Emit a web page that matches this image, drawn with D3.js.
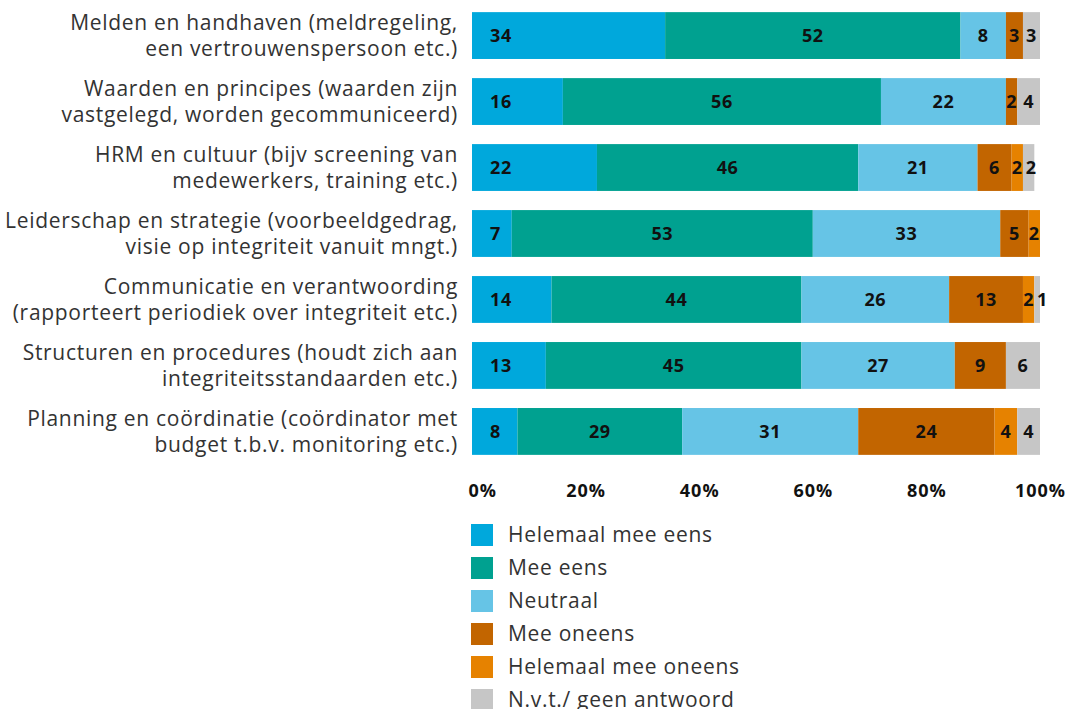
<!DOCTYPE html>
<html>
<head>
<meta charset="utf-8">
<script src="https://cdn.jsdelivr.net/npm/d3@7"></script>
<style>
  body { margin: 0; background: #fff; }
  svg text { font-family: "Open Sans", "Noto Sans", sans-serif; }
  .cat-label { font-size: 21px; fill: #333; letter-spacing: 0.7px; }
  .bar-label { font-size: 18px; font-weight: 700; fill: #111; letter-spacing: 0.6px; }
  .tick-label { font-size: 18px; font-weight: 700; fill: #111; letter-spacing: 1px; }
  .legend-label { font-size: 21px; fill: #333; letter-spacing: 0.7px; }
</style>
</head>
<body>
<svg id="chart"></svg>
<script>
// categories, two lines each
const categories = [
  ['Melden en handhaven (meldregeling,', 'een vertrouwenspersoon etc.)'],
  ['Waarden en principes (waarden zijn', 'vastgelegd, worden gecommuniceerd)'],
  ['HRM en cultuur (bijv screening van', 'medewerkers, training etc.)'],
  ['Leiderschap en strategie (voorbeeldgedrag,', 'visie op integriteit vanuit mngt.)'],
  ['Communicatie en verantwoording', '(rapporteert periodiek over integriteit etc.)'],
  ['Structuren en procedures (houdt zich aan', 'integriteitsstandaarden etc.)'],
  ['Planning en coördinatie (coördinator met', 'budget t.b.v. monitoring etc.)']
];

const seriesNames = ['Helemaal mee eens', 'Mee eens', 'Neutraal', 'Mee oneens', 'Helemaal mee oneens', 'N.v.t./ geen antwoord'];
const seriesColors = ['#00a8dc', '#00a190', '#66c4e6', '#c26500', '#e68200', '#c6c6c6'];

const helemaalMeeEens = [34, 16, 22, 7, 14, 13, 8];
const meeEens = [52, 56, 46, 53, 44, 45, 29];
const neutraal = [8, 22, 21, 33, 26, 27, 31];
const meeOneens = [3, 2, 6, 5, 13, 9, 24];
const helemaalMeeOneens = [0, 0, 2, 2, 2, 0, 4];
const nvt = [3, 4, 2, 0, 1, 6, 4];

const tickValues = [0, 20, 40, 60, 80, 100];

const seriesValues = [helemaalMeeEens, meeEens, neutraal, meeOneens, helemaalMeeOneens, nvt];

const width = 1068, height = 709;
const svg = d3.select('#chart').attr('width', width).attr('height', height);

const data = categories.map((c, i) => {
  const row = { key: i };
  seriesNames.forEach((s, j) => row[s] = seriesValues[j][i]);
  return row;
});

const stacked = d3.stack().keys(seriesNames)(data);

const xScale = d3.scaleLinear().domain([0, 100]).range([472, 1040]);
const yScale = d3.scaleBand()
  .domain(d3.range(categories.length))
  .range([-7, 474])
  .padding(0.29);
const color = d3.scaleOrdinal().domain(seriesNames).range(seriesColors);

// bars
const layers = svg.append('g').selectAll('g')
  .data(stacked)
  .join('g')
    .attr('fill', d => color(d.key));

layers.selectAll('rect')
  .data(d => d)
  .join('rect')
    .attr('x', d => xScale(d[0]))
    .attr('y', (d, i) => yScale(i))
    .attr('width', d => xScale(d[1]) - xScale(d[0]))
    .attr('height', yScale.bandwidth());

// value labels
const labelG = svg.append('g');
stacked.forEach((layer, li) => {
  layer.forEach((d, i) => {
    const v = d[1] - d[0];
    if (v <= 0) return;
    labelG.append('text')
      .attr('class', 'bar-label')
      .attr('data-row', i)
      .attr('x', li === 0 ? xScale(d[0]) + 18 : (xScale(d[0]) + xScale(d[1])) / 2)
      .attr('y', yScale(i) + yScale.bandwidth() / 2)
      .attr('dy', '0.35em')
      .attr('text-anchor', li === 0 ? 'start' : 'middle')
      .text(v);
  });
});

// push apart labels that collide in tiny segments
d3.range(categories.length).forEach(row => {
  const nodes = labelG.selectAll(`text[data-row="${row}"]`).nodes();
  let prevRight = -Infinity;
  nodes.forEach(n => {
    const b = n.getBBox();
    const shift = prevRight + 3 - b.x;
    if (shift > 0) {
      n.setAttribute('x', +n.getAttribute('x') + shift);
      prevRight = b.x + b.width + shift;
    } else {
      prevRight = b.x + b.width;
    }
  });
});

// category labels
const catG = svg.append('g');
categories.forEach((lines, i) => {
  const cy = yScale(i) + yScale.bandwidth() / 2;
  const t = catG.append('text')
    .attr('class', 'cat-label')
    .attr('text-anchor', 'end');
  lines.forEach((line, k) => {
    t.append('tspan')
      .attr('x', 458)
      .attr('y', cy + (k === 0 ? -13 : 13))
      .attr('dy', '0.35em')
      .text(line);
  });
});

// x axis
const xAxis = d3.axisBottom(xScale)
  .tickValues(tickValues)
  .tickSize(0)
  .tickFormat(d => d + '%');

const xAxisG = svg.append('g')
  .attr('transform', 'translate(0,480)')
  .call(xAxis)
  .call(g => g.select('.domain').remove());

xAxisG.selectAll('text')
  .attr('class', 'tick-label')
  .attr('dy', '0.71em')
  .attr('y', 4)
  .attr('text-anchor', d => d === 0 ? 'start' : 'middle')
  .attr('dx', d => d === 0 ? -4 : 0);

// legend
const legend = svg.append('g').selectAll('g')
  .data(seriesNames)
  .join('g')
    .attr('transform', (d, i) => `translate(471,${524 + i * 33})`);

legend.append('rect')
  .attr('width', 22)
  .attr('height', 22)
  .attr('fill', d => color(d));

legend.append('text')
  .attr('class', 'legend-label')
  .attr('x', 37)
  .attr('y', 11)
  .attr('dy', '0.35em')
  .text(d => d);
</script>
</body>
</html>
